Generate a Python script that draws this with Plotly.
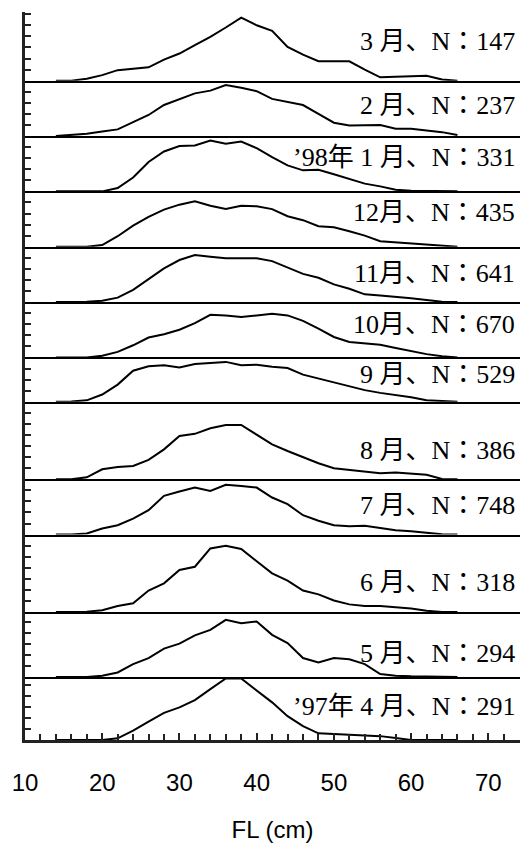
import plotly.graph_objects as go
from plotly.subplots import make_subplots

# Size classes (FL, cm; 2-cm bins)
bins = [14, 16, 18, 20, 22, 24, 26, 28, 30, 32, 34, 36, 38, 40, 42, 44, 46, 48, 50,
        52, 54, 56, 58, 60, 62, 64, 66]

# Panel labels, top to bottom
labels = ["3 月、N：147", "2 月、N：237", "’98年 1 月、N：331", "12月、N：435",
          "11月、N：641", "10月、N：670", "9 月、N：529", "8 月、N：386",
          "7 月、N：748", "6 月、N：318", "5 月、N：294", "’97年 4 月、N：291"]

# Frequency (%) per bin, top to bottom
mar98 = [0, 0, 0.35, 1.0, 1.9, 2.2, 2.4, 3.8, 4.9, 6.4, 7.9, 9.6, 11.4, 10.0, 9.0, 6.1,
         4.7, 3.5, 3.5, 3.5, 2.0, 0.6, 0.7, 0.8, 0.9, 0.2, 0]
feb98 = [0, 0.2, 0.4, 0.8, 1.2, 2.5, 3.8, 5.6, 6.6, 7.7, 8.2, 9.2, 8.7, 8.1, 6.7, 6.2,
         5.6, 4.0, 2.4, 1.9, 1.9, 2.0, 1.3, 1.3, 1.0, 0.7, 0.2]
jan98 = [0, 0, 0, 0, 0.6, 2.5, 5.3, 7.2, 8.2, 8.3, 9.2, 8.6, 9.0, 7.8, 6.2, 4.7,
         3.8, 3.9, 3.1, 2.2, 1.4, 0.9, 0.3, 0.1, 0.05, 0, 0]
dec97 = [0, 0, 0, 0.3, 1.9, 3.8, 5.4, 6.7, 7.6, 8.2, 7.4, 6.8, 7.4, 7.3, 6.8, 5.5,
         4.8, 3.7, 3.5, 2.8, 2.0, 1.0, 0.8, 0.7, 0.4, 0.2, 0]
nov97 = [0, 0, 0.05, 0.25, 0.8, 2.2, 4.1, 6.1, 7.6, 8.5, 8.2, 7.9, 7.9, 7.9, 7.4, 6.3,
         5.1, 4.4, 3.2, 2.4, 1.4, 1.2, 1.0, 0.7, 0.4, 0.05, 0]
oct97 = [0, 0, 0, 0.3, 1.0, 2.2, 3.6, 4.2, 5.0, 6.2, 7.7, 7.6, 7.3, 7.6, 7.9, 7.6,
         6.6, 5.2, 3.7, 2.8, 2.6, 2.3, 1.7, 1.1, 0.6, 0.2, 0]
sep97 = [0, 0.05, 0.25, 1.3, 3.1, 5.6, 6.4, 6.6, 6.2, 6.8, 7.0, 7.2, 6.6, 6.7, 6.3, 6.1,
         4.9, 4.2, 3.6, 2.9, 2.1, 1.6, 1.2, 0.8, 0.25, 0.1, 0]
aug97 = [0, 0, 0.35, 1.8, 2.2, 2.4, 3.5, 5.4, 7.8, 8.2, 9.2, 9.8, 9.8, 8.0, 6.3, 5.1,
         4.0, 2.9, 2.0, 1.7, 1.3, 1.1, 1.2, 1.0, 0.8, 0.05, 0]
jul97 = [0, 0, 0.2, 1.1, 1.7, 2.9, 4.4, 7.0, 7.8, 8.5, 7.9, 9.0, 8.8, 8.5, 6.7, 5.5,
         3.5, 2.5, 1.7, 1.5, 1.6, 1.2, 0.8, 0.6, 0.35, 0.05, 0]
jun97 = [0, 0, 0.05, 0.35, 1.1, 1.6, 3.9, 5.2, 7.6, 8.2, 11.5, 12.0, 11.4, 9.2, 7.0, 5.7,
         3.9, 3.2, 2.1, 1.4, 1.1, 1.1, 0.9, 0.65, 0.25, 0, 0]
may97 = [0, 0, 0, 0.2, 0.8, 2.3, 3.4, 5.1, 6.0, 7.5, 8.5, 10.3, 9.7, 10.0, 7.6, 6.1,
         3.4, 2.6, 3.4, 3.2, 2.3, 0.5, 0.2, 0.1, 0.05, 0, 0]
apr97 = [0, 0, 0, 0, 0.3, 1.7, 3.3, 4.9, 5.9, 7.2, 9.2, 11.1, 11.1, 9.0, 6.8, 4.3,
         2.5, 1.2, 1.1, 0.9, 0.8, 0.7, 0.35, 0, 0, 0, 0]

series = [mar98, feb98, jan98, dec97, nov97, oct97, sep97, aug97, jul97, jun97, may97, apr97]

# Layout: y-extent (%) of each panel and label heights (%)
panel_top = [12.4, 10, 10, 10, 10, 10, 8, 14, 10, 14, 11.7, 11.4]
label_y = [7.0, 5.6, 6.1, 6.1, 5.2, 5.9, 4.9, 5.2, 5.3, 5.4, 4.3, 6.1]

n = len(series)
fig = make_subplots(rows=n, cols=1, shared_xaxes=True, vertical_spacing=0,
                    row_heights=panel_top)

for i, vals in enumerate(series):
    fig.add_trace(go.Scatter(x=bins, y=vals, mode="lines",
                             line=dict(color="black", width=2),
                             showlegend=False, hoverinfo="skip"),
                  row=i + 1, col=1)
    last = (i == n - 1)
    fig.update_yaxes(range=[0, panel_top[i]], showline=True, linecolor="#222",
                     linewidth=3, ticks="inside", tick0=0, dtick=2, ticklen=6,
                     tickwidth=2, tickcolor="#222", showticklabels=False,
                     showgrid=False, zeroline=False, automargin=False,
                     row=i + 1, col=1)
    if last:
        fig.update_xaxes(range=[10, 74.1], showline=True, linecolor="#222",
                         linewidth=3, ticks="inside", tick0=10, dtick=10,
                         ticklen=7, tickwidth=2, tickcolor="#222",
                         minor=dict(dtick=2, tick0=10, ticks="inside", ticklen=6,
                                    tickwidth=2, tickcolor="#222"),
                         showticklabels=True, ticklabelstandoff=19,
                         tickfont=dict(family="Liberation Sans, Arial", size=24,
                                       color="black"),
                         title=dict(text="FL (cm)", standoff=27,
                                    font=dict(family="Liberation Sans, Arial",
                                              size=24, color="black")),
                         showgrid=False, zeroline=False, automargin=False,
                         layer="above traces", row=i + 1, col=1)
    else:
        fig.update_xaxes(range=[10, 74.1], showline=True, linecolor="black",
                         linewidth=2, ticks="", showticklabels=False,
                         showgrid=False, zeroline=False, automargin=False,
                         layer="above traces", row=i + 1, col=1)
    yref = "y" if i == 0 else f"y{i + 1}"
    fig.add_annotation(text=labels[i], xref="paper", x=0.993, xanchor="right",
                       yref=yref, y=label_y[i], yanchor="middle", showarrow=False,
                       font=dict(family="Liberation Serif, Noto Sans CJK JP",
                                 size=26, color="black"))

fig.update_layout(width=523, height=845, margin=dict(l=25, r=3, t=12, b=105),
                  plot_bgcolor="rgba(0,0,0,0)", paper_bgcolor="white")

fig.write_html("out.html", config={"displayModeBar": False},
               post_script="document.body.style.margin='0';document.body.style.overflow='hidden';")
